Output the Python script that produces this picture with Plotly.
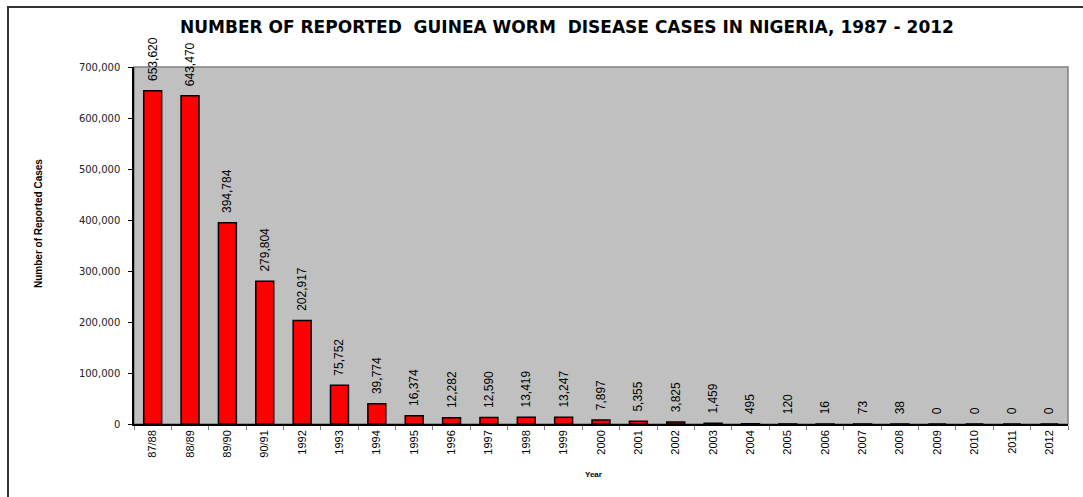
import plotly.graph_objects as go

categories = ["87/88", "88/89", "89/90", "90/91", "1992", "1993", "1994", "1995", "1996",
              "1997", "1998", "1999", "2000", "2001", "2002", "2003", "2004", "2005",
              "2006", "2007", "2008", "2009", "2010", "2011", "2012"]
cases = [653620, 643470, 394784, 279804, 202917, 75752, 39774, 16374, 12282,
         12590, 13419, 13247, 7897, 5355, 3825, 1459, 495, 120,
         16, 73, 38, 0, 0, 0, 0]
y_ticks = [0, 100000, 200000, 300000, 400000, 500000, 600000, 700000]
y_ticklabels = ["0", "100,000", "200,000", "300,000", "400,000", "500,000", "600,000", "700,000"]

W, H = 1083, 497
L, R, T, B = 134, 1068, 67, 424

def px_x(p):
    return (p - L) / (R - L)

def px_y(p):
    return (B - p) / (B - T)

fig = go.Figure()
fig.add_trace(go.Bar(
    x=categories, y=cases,
    marker=dict(color="#FF0000", line=dict(color="#000000", width=1.5)),
    text=["\u00a0\u00a0" + f"{v:,}" for v in cases],
    textposition="outside", textangle=-90, constraintext="none",
    textfont=dict(family="Liberation Sans Narrow, Arial Narrow, sans-serif", size=12, color="#000000"),
    cliponaxis=False,
))

fig.update_layout(
    width=W, height=H,
    margin=dict(l=L, r=W - R, t=T, b=H - B),
    paper_bgcolor="white", plot_bgcolor="#C0C0C0",
    bargap=0.52, showlegend=False,
)
fig.update_xaxes(
    type="category", tickangle=-90, ticks="outside", tickson="boundaries",
    ticklen=4, tickcolor="#808080", showline=True, linecolor="#000000", linewidth=1.5,
    tickfont=dict(family="Liberation Sans Narrow, Arial Narrow, sans-serif", size=11, color="#000000"),
    showgrid=False,
)
fig.update_yaxes(
    range=[0, 700000], tickvals=y_ticks, ticktext=y_ticklabels,
    ticks="outside", ticklen=4, tickcolor="#000000", showline=True, linecolor="#000000", linewidth=1.5,
    tickfont=dict(family="DejaVu Sans, sans-serif", size=10, color="#222222"),
    ticklabelstandoff=6, showgrid=False, zeroline=False,
)

# plot area border (gray top/right)
fig.add_shape(type="rect", xref="paper", yref="paper", x0=0, x1=1, y0=0, y1=1,
              line=dict(color="#808080", width=1.5), layer="below")
# outer chart border
fig.add_shape(type="rect", xref="paper", yref="paper",
              x0=px_x(8), x1=px_x(1095), y0=px_y(510), y1=px_y(7),
              line=dict(color="#333333", width=2))

fig.add_annotation(text="<b>NUMBER OF REPORTED  GUINEA WORM  DISEASE CASES IN NIGERIA, 1987 - 2012</b>",
                   xref="paper", yref="paper", x=px_x(567), y=px_y(27), showarrow=False,
                   xanchor="center", yanchor="middle",
                   font=dict(family="DejaVu Sans, sans-serif", size=17, color="#000000"))
fig.add_annotation(text="<b>Number of Reported Cases</b>", textangle=-90,
                   xref="paper", yref="paper", x=px_x(38), y=px_y(224), showarrow=False,
                   xanchor="center", yanchor="middle",
                   font=dict(family="Liberation Sans Narrow, Arial Narrow, sans-serif", size=10, color="#000000"))
fig.add_annotation(text="<b>Year</b>",
                   xref="paper", yref="paper", x=px_x(593), y=px_y(474), showarrow=False,
                   xanchor="center", yanchor="middle",
                   font=dict(family="Liberation Sans, Arial, sans-serif", size=8, color="#000000"))

fig.write_html("out.html")
